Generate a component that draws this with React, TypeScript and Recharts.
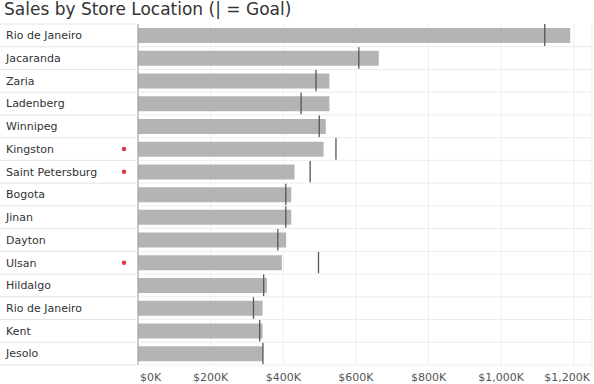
import React from 'react';
import { ComposedChart, Bar, XAxis, YAxis, CartesianGrid } from 'recharts';

const stores = [
  'Rio de Janeiro', 'Jacaranda', 'Zaria', 'Ladenberg', 'Winnipeg', 'Kingston',
  'Saint Petersburg', 'Bogota', 'Jinan', 'Dayton', 'Ulsan', 'Hildalgo',
  'Rio de Janeiro', 'Kent', 'Jesolo',
];
const sales = [1190, 663, 527, 527, 517, 511, 431, 422, 422, 408, 396, 355, 343, 343, 344];
const goals = [1120, 608, 490, 449, 499, 545, 474, 407, 407, 385, 497, 346, 318, 335, 344];
const xTicks = [0, 200, 400, 600, 800, 1000, 1200];

const data = stores.map((name, i) => ({
  key: `${i}`,
  name,
  sales: sales[i],
  goal: goals[i],
  missed: sales[i] < goals[i],
}));

const FONT = 'DejaVu Sans, sans-serif';

const StoreTick = (props: any) => {
  const { y, payload, index } = props;
  const row = data[index];
  const half = payload.offset || 11;
  return (
    <g>
      {index === 0 && <line x1={0} x2={136} y1={y - half} y2={y - half} stroke="#e3e3e3" />}
      <line x1={0} x2={136} y1={y + half} y2={y + half} stroke="#e3e3e3" />
      <line x1={140} x2={594} y1={y + half} y2={y + half} stroke="#ececec" />
      <text x={6} y={y} dy="0.35em" fontSize={11} fill="#333" fontFamily={FONT}>
        {row ? row.name : ''}
      </text>
      {row && row.missed && <circle cx={124} cy={y} r={2.3} fill="#d4404e" />}
    </g>
  );
};

const MoneyTick = (props: any) => {
  const { x, y, payload, index } = props;
  const label = `$${payload.value.toLocaleString('en-US')}K`;
  const last = index === xTicks.length - 1;
  let anchor = 'middle';
  let tx = x;
  if (index === 0) { anchor = 'start'; tx = x + 2; }
  if (last) { anchor = 'end'; tx = 590; }
  return (
    <text x={tx} y={y + 8} textAnchor={anchor} fontSize={11} fill="#555" fontFamily={FONT}>
      {label}
    </text>
  );
};

const GoalMark = (props: any) => {
  const { x, y, width, height } = props;
  const gx = x + width;
  return <line x1={gx} x2={gx} y1={y} y2={y + height} stroke="#555" strokeWidth={1.3} />;
};

export default function App() {
  return (
    <div style={{ position: 'absolute', left: 0, top: 0, width: 594, height: 384, background: '#fff' }}>
      <div
        style={{
          position: 'absolute', left: 4, top: -1, fontFamily: FONT, fontSize: 17,
          lineHeight: '20px', color: '#333', whiteSpace: 'nowrap',
        }}
      >
        Sales by Store Location (| = Goal)
      </div>
      <ComposedChart
        width={594}
        height={384}
        data={data}
        layout="vertical"
        margin={{ top: 24, right: 2, bottom: 0, left: 0 }}
        barCategoryGap={0}
      >
        <CartesianGrid horizontal={false} stroke="#efefef" />
        <XAxis
          type="number"
          domain={[0, 1250]}
          ticks={xTicks}
          allowDataOverflow
          axisLine={false}
          tickLine={false}
          height={19}
          tick={<MoneyTick />}
        />
        <YAxis
          type="category"
          dataKey="key"
          width={138}
          axisLine={{ stroke: '#999' }}
          tickLine={false}
          tick={<StoreTick />}
          interval={0}
        />
        <YAxis yAxisId="goal" type="category" dataKey="key" hide />
        <Bar dataKey="sales" fill="#b4b4b4" barSize={15} isAnimationActive={false} />
        <Bar
          dataKey="goal"
          yAxisId="goal"
          barSize={22}
          shape={<GoalMark />}
          isAnimationActive={false}
        />
      </ComposedChart>
    </div>
  );
}
